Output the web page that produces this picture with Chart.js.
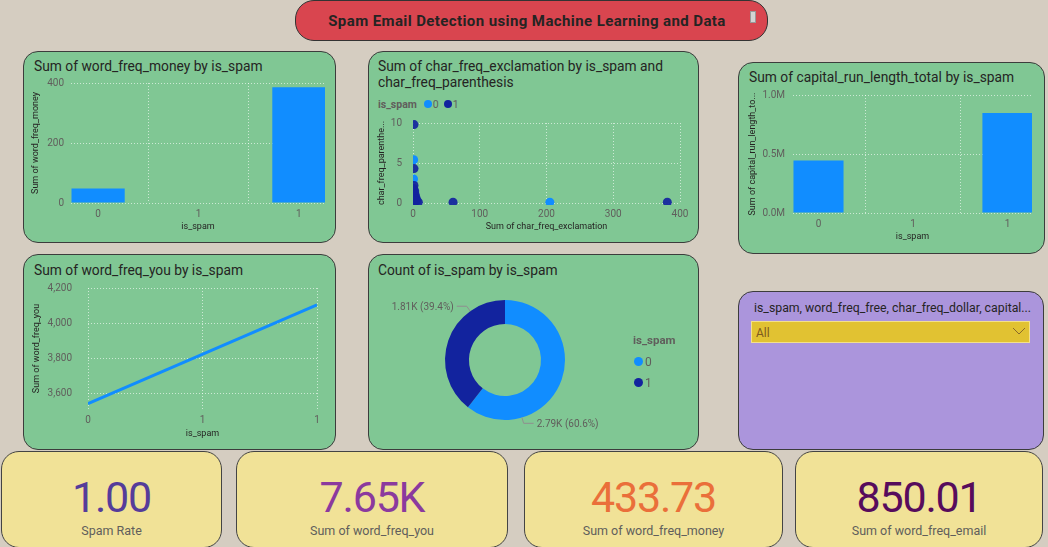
<!DOCTYPE html>
<html><head><meta charset="utf-8">
<script src="https://cdn.jsdelivr.net/npm/chart.js@4.4.0/dist/chart.umd.min.js"></script>
<style>
body{margin:0;width:1048px;height:547px;background:#d5cdc1;font-family:Roboto,"Noto Sans",sans-serif;overflow:hidden;position:relative;}
.panel{position:absolute;box-sizing:border-box;border:1px solid #3c3c3c;border-radius:15px;background:#80c794;}
.ptitle{position:absolute;font-size:13.8px;color:#252423;white-space:nowrap;line-height:16px;}
canvas{position:absolute;}
.card{position:absolute;box-sizing:border-box;border:1px solid #444;border-radius:18px;background:#f1e297;top:451px;height:97px;overflow:hidden;}
.kv{position:absolute;left:0;right:0;text-align:center;font-size:43px;line-height:50px;top:20px;letter-spacing:-1.2px;}
.kl{position:absolute;left:0;right:0;text-align:center;font-size:12.5px;line-height:16px;top:71px;color:#605e5c;}
.leg{position:absolute;display:flex;align-items:center;font-size:10.5px;color:#605e5c;white-space:nowrap;}
.dot{display:inline-block;width:8px;height:8px;border-radius:50%;}
</style></head>
<body>
<div style="position:absolute;left:295px;top:0px;width:473px;height:41px;box-sizing:border-box;border:1px solid #333;border-radius:19px;background:#d9454f;"></div>
<div style="position:absolute;left:295px;width:464px;top:11px;line-height:20px;text-align:center;font-size:15px;letter-spacing:0.4px;font-weight:bold;color:#252423;">Spam Email Detection using Machine Learning and Data</div>
<div style="position:absolute;left:750px;top:11px;width:6px;height:12px;background:#d3d3d3;border:1px solid #999;box-sizing:border-box;"></div>

<div class="panel" style="left:23px;top:51px;width:313px;height:192px;"></div>
<div class="ptitle" style="left:34px;top:58px;">Sum of word_freq_money by is_spam</div>
<canvas id="c1" width="312" height="166" style="left:23px;top:76px;"></canvas>

<div class="panel" style="left:368px;top:51px;width:331px;height:192px;"></div>
<div class="ptitle" style="left:378px;top:58px;">Sum of char_freq_exclamation by is_spam and<br>char_freq_parenthesis</div>
<div class="leg" id="leg2" style="left:378px;top:97px;height:14px;"></div>
<canvas id="c2" width="330" height="127" style="left:368px;top:115px;"></canvas>

<div class="panel" style="left:738px;top:62px;width:307px;height:192px;"></div>
<div class="ptitle" style="left:749px;top:69px;">Sum of capital_run_length_total by is_spam</div>
<canvas id="c3" width="306" height="165" style="left:738px;top:88px;"></canvas>

<div class="panel" style="left:23px;top:254px;width:313px;height:196px;"></div>
<div class="ptitle" style="left:34px;top:262px;">Sum of word_freq_you by is_spam</div>
<canvas id="c4" width="312" height="169" style="left:23px;top:280px;"></canvas>

<div class="panel" style="left:368px;top:254px;width:331px;height:196px;"></div>
<div class="ptitle" style="left:378px;top:262px;">Count of is_spam by is_spam</div>
<canvas id="c5" width="330" height="169" style="left:368px;top:280px;"></canvas>
<div id="leg5" style="position:absolute;left:633px;top:332px;font-size:11.5px;color:#605e5c;"></div>

<div class="panel" style="left:738px;top:291px;width:306px;height:159px;background:#ab95dc;"></div>
<div class="ptitle" style="left:754px;top:300px;font-size:12.3px;">is_spam, word_freq_free, char_freq_dollar, capital...</div>
<div style="position:absolute;left:751px;top:321px;width:279px;height:22px;box-sizing:border-box;background:#e1c232;border:1px solid #f3e08a;"></div>
<div style="position:absolute;left:756px;top:325px;font-size:12px;line-height:16px;color:#7e5a1e;">All</div>
<svg style="position:absolute;left:1012px;top:327px;" width="14" height="9"><polyline points="1,1 7,7 13,1" fill="none" stroke="#8a6a2a" stroke-width="1"/></svg>

<div class="card" style="left:1px;width:221px;"><div class="kv" id="k1" style="color:#553c9a;"></div><div class="kl">Spam Rate</div></div>
<div class="card" style="left:236px;width:272px;"><div class="kv" id="k2" style="color:#8b3a9e;"></div><div class="kl">Sum of word_freq_you</div></div>
<div class="card" style="left:524px;width:259px;"><div class="kv" id="k3" style="color:#ea6f3a;"></div><div class="kl">Sum of word_freq_money</div></div>
<div class="card" style="left:795px;width:248px;"><div class="kv" id="k4" style="color:#570c5c;"></div><div class="kl">Sum of word_freq_email</div></div>

<script>
// ---- data ----
const spamCats = [0, 1];
const moneySums = [48, 385.7];
const capitalRunSums = [445000, 848000];
const youSums = [3545, 4105];
const spamCounts = [2788, 1813];
const scatterX0 = [1, 0.8, 1.2, 205];
const scatterY0 = [5.4, 3.0, 1.6, 0.1];
const scatterX1 = [1.5, 1.5, 1.5, 1, 2.5, 3, 4, 5, 6, 2, 8, 3.5, 60, 381];
const scatterY1 = [9.8, 4.3, 2.2, 1.8, 1.5, 1.1, 0.8, 0.5, 0.3, 0.2, 0.1, 0.3, 0.1, 0.1];
const kpiValues = ['1.00', '7.65K', '433.73', '850.01'];
const seriesColors = ['#118dff', '#12239e'];

['k1','k2','k3','k4'].forEach((id,i)=>document.getElementById(id).textContent = kpiValues[i]);

const FONT = 'Roboto, "Noto Sans", sans-serif';
Chart.defaults.font.family = FONT;
const gridC = 'rgba(255,255,255,0.6)';
const tickC = '#605e5c';
const titleC = '#252423';

function axis(opts){
  return {
    type:'linear', min:opts.min, max:opts.max, offset:false,
    afterFit: s=>{
      if (opts.w!==undefined){ s.width = opts.w; s.paddingTop = 0; s.paddingBottom = 0; }
      if (opts.h!==undefined){ s.height = opts.h; s.paddingLeft = 0; s.paddingRight = 0; }
    },
    grid:{display:true, color:gridC, drawTicks:false, lineWidth:1},
    border:{display:false, dash:[1,2]},
    ticks:{stepSize:opts.step, includeBounds:false, padding:opts.pad, color:tickC, font:{size:10}, callback:opts.cb},
    title:{display:true, text:opts.title, color:titleC, font:{size:9}, padding:opts.tpad}
  };
}
const base = {animation:false, responsive:false, maintainAspectRatio:false,
  plugins:{legend:{display:false}, tooltip:{enabled:false}}};

// chart 1
new Chart(document.getElementById('c1'), {
  type:'bar',
  data:{datasets:[{data:spamCats.map((c,i)=>({x:c,y:moneySums[i]})), backgroundColor:seriesColors[0], categoryPercentage:1, barPercentage:0.53}]},
  options:Object.assign({}, base, {
    layout:{padding:{left:0,right:10,top:7,bottom:0}},
    scales:{
      x:axis({min:-0.135,max:1.13,step:0.5,h:39,pad:5,cb:v=>Math.round(v),title:'is_spam',tpad:{top:0,bottom:9.6}}),
      y:axis({min:0,max:400,step:200,w:48,pad:7,cb:v=>v,title:'Sum of word_freq_money',tpad:{top:7.6,bottom:0}})
    }})
});

// chart 3
new Chart(document.getElementById('c3'), {
  type:'bar',
  data:{datasets:[{data:spamCats.map((c,i)=>({x:c,y:capitalRunSums[i]})), backgroundColor:seriesColors[0], categoryPercentage:1, barPercentage:0.53}]},
  options:Object.assign({}, base, {
    layout:{padding:{left:0,right:12,top:7,bottom:0}},
    scales:{
      x:axis({min:-0.135,max:1.13,step:0.5,h:40,pad:5,cb:v=>Math.round(v),title:'is_spam',tpad:{top:0,bottom:10.6}}),
      y:axis({min:0,max:1000000,step:500000,w:55,pad:8,cb:v=>(v/1e6).toFixed(1)+'M',title:'Sum of capital_run_length_to...',tpad:{top:9.6,bottom:0}})
    }})
});

// chart 4
new Chart(document.getElementById('c4'), {
  type:'line',
  data:{datasets:[{data:spamCats.map((c,i)=>({x:c,y:youSums[i]})), borderColor:seriesColors[0], borderWidth:3, pointRadius:0, fill:false}]},
  options:Object.assign({}, base, {
    layout:{padding:{left:0,right:18,top:8,bottom:0}},
    scales:{
      x:axis({min:0,max:1,step:0.5,h:40,pad:5,cb:v=>Math.round(v),title:'is_spam',tpad:{top:0,bottom:9.6}}),
      y:axis({min:3515,max:4200,step:200,w:65,pad:16,cb:v=>v.toLocaleString('en-US'),title:'Sum of word_freq_you',tpad:{top:8.6,bottom:0}})
    }})
});

// chart 2 scatter
document.getElementById('leg2').innerHTML =
  '<span style="font-weight:bold;margin-right:7px;">is_spam</span>' +
  spamCats.map((c,i)=>'<span class="dot" style="background:'+seriesColors[i]+';margin-right:1px;"></span><span style="margin-right:5px;">'+c+'</span>').join('');
new Chart(document.getElementById('c2'), {
  type:'scatter',
  data:{datasets:[
    {data:scatterX0.map((x,i)=>({x:x,y:scatterY0[i]})), backgroundColor:seriesColors[0], pointRadius:4.5, borderWidth:0, order:1, clip:{left:0,top:false,right:false,bottom:2}},
    {data:scatterX1.map((x,i)=>({x:x,y:scatterY1[i]})), backgroundColor:'rgba(18,35,158,0.92)', pointRadius:4.5, borderWidth:0, order:0, clip:{left:0,top:false,right:false,bottom:2}}
  ]},
  options:Object.assign({}, base, {
    layout:{padding:{left:0,right:18,top:8,bottom:0}},
    scales:{
      x:axis({min:0,max:400,step:100,h:39,pad:5,cb:v=>v,title:'Sum of char_freq_exclamation',tpad:{top:0,bottom:9.6}}),
      y:axis({min:0,max:10,step:5,w:45,pad:11,cb:v=>v,title:'char_freq_parenthe...',tpad:{top:8.6,bottom:0}})
    }})
});

// chart 5 doughnut
document.getElementById('leg5').innerHTML =
  '<div style="font-weight:bold;line-height:16px;margin-bottom:3px;">is_spam</div>' +
  spamCats.map((c,i)=>'<div style="display:flex;align-items:center;height:21px;font-size:12px;"><span class="dot" style="background:'+seriesColors[i]+';width:9px;height:9px;margin-left:1px;margin-right:2px;"></span>'+c+'</div>').join('');
const donutLabels = {
  id:'donutLabels',
  afterDatasetsDraw(chart){
    const ctx = chart.ctx;
    const meta = chart.getDatasetMeta(0);
    const data = chart.data.datasets[0].data;
    const total = data.reduce((a,b)=>a+b,0);
    ctx.save();
    meta.data.forEach((arc,i)=>{
      const p = arc.getProps(['x','y','startAngle','endAngle','outerRadius'], true);
      const a = p.startAngle + 0.75*(p.endAngle-p.startAngle);
      const ex = p.x + Math.cos(a)*p.outerRadius, ey = p.y + Math.sin(a)*p.outerRadius;
      const bx = p.x + Math.cos(a)*(p.outerRadius+6), by = p.y + Math.sin(a)*(p.outerRadius+6);
      const dir = Math.cos(a) >= 0 ? 1 : -1;
      const cx = bx + dir*10;
      ctx.strokeStyle = '#8f8f8f'; ctx.lineWidth = 1;
      ctx.beginPath(); ctx.moveTo(ex,ey); ctx.lineTo(bx,by); ctx.lineTo(cx,by); ctx.stroke();
      ctx.fillStyle = tickC; ctx.font = '10px ' + FONT;
      ctx.textAlign = dir>0 ? 'left' : 'right'; ctx.textBaseline = 'middle';
      const txt = (data[i]/1000).toFixed(2)+'K ('+(data[i]/total*100).toFixed(1)+'%)';
      ctx.fillText(txt, cx + dir*3, by + 1);
    });
    ctx.restore();
  }
};
new Chart(document.getElementById('c5'), {
  type:'doughnut',
  data:{labels:spamCats.map(String), datasets:[{data:spamCounts, backgroundColor:seriesColors, borderWidth:0}]},
  options:Object.assign({}, base, {cutout:'60%', layout:{padding:{left:77,right:133,top:20,bottom:29}}}),
  plugins:[donutLabels]
});
</script>
</body></html>
